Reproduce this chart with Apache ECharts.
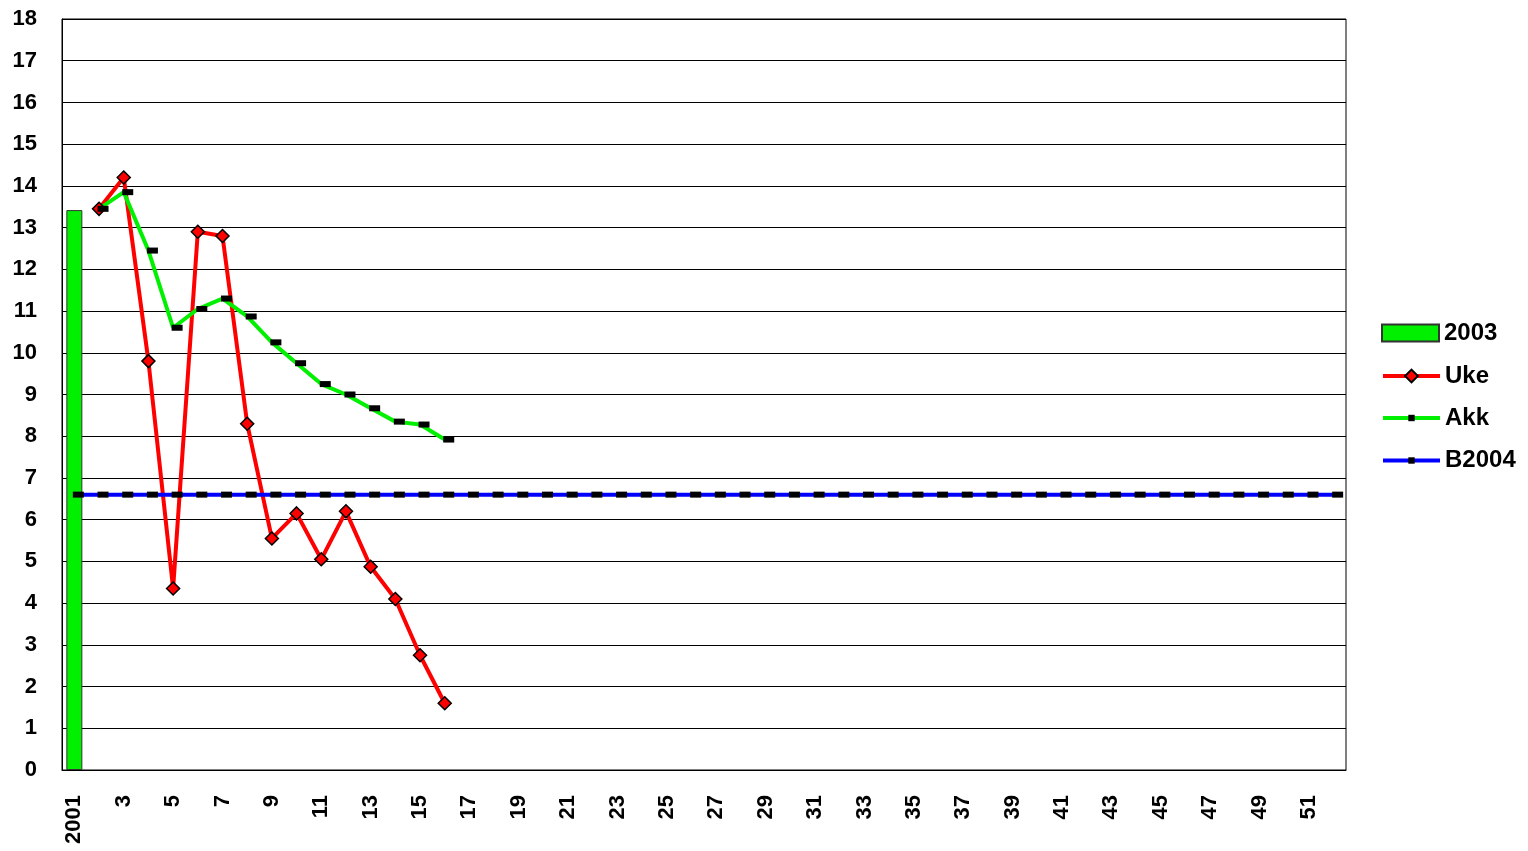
<!DOCTYPE html>
<html>
<head>
<meta charset="utf-8">
<script src="https://cdn.jsdelivr.net/npm/echarts@6/dist/echarts.min.js"></script>
<style>
  html, body { margin: 0; padding: 0; background: #fff; }
  #chart { width: 1528px; height: 851px; }
</style>
</head>
<body>
<div id="chart"></div>
<script>
// Week labels: first slot is the yearly column, then weeks 2..52
const weeks = ['2001', '2', '3', '4', '5', '6', '7', '8', '9', '10',
  '11', '12', '13', '14', '15', '16', '17', '18', '19', '20',
  '21', '22', '23', '24', '25', '26', '27', '28', '29', '30',
  '31', '32', '33', '34', '35', '36', '37', '38', '39', '40',
  '41', '42', '43', '44', '45', '46', '47', '48', '49', '50',
  '51', '52'];

// Yearly value 2003
const year2003 = [13.42];

// Weekly values
const uke = [null, 13.45, 14.2, 9.8, 4.35, 12.9, 12.8, 8.3, 5.55, 6.15,
  5.05, 6.2, 4.87, 4.1, 2.75, 1.6];

// Accumulated values
const akk = [null, 13.45, 13.85, 12.45, 10.6, 11.05, 11.3, 10.87, 10.25, 9.75,
  9.25, 9.0, 8.67, 8.35, 8.28, 7.92];

// Budget 2004
const b2004 = [6.6, 6.6, 6.6, 6.6, 6.6, 6.6, 6.6, 6.6, 6.6, 6.6,
  6.6, 6.6, 6.6, 6.6, 6.6, 6.6, 6.6, 6.6, 6.6, 6.6,
  6.6, 6.6, 6.6, 6.6, 6.6, 6.6, 6.6, 6.6, 6.6, 6.6,
  6.6, 6.6, 6.6, 6.6, 6.6, 6.6, 6.6, 6.6, 6.6, 6.6,
  6.6, 6.6, 6.6, 6.6, 6.6, 6.6, 6.6, 6.6, 6.6, 6.6,
  6.6, 6.6];

const font = 'Liberation Sans, Arial, sans-serif';
const green = '#00f000';

const chart = echarts.init(document.getElementById('chart'), null, { renderer: 'canvas' });

const dashMarker = {
  symbol: 'rect',
  symbolSize: [11, 6],
  symbolOffset: [4, 0],
  itemStyle: { color: '#000', borderWidth: 0 }
};

const legendText = { fontFamily: font, fontWeight: 'bold', fontSize: 24, color: '#000' };
const legendBase = {
  orient: 'vertical',
  left: 1381,
  padding: 0,
  itemWidth: 57,
  itemGap: 18.5,
  textStyle: legendText,
  lineStyle: { width: 'inherit' }
};

chart.setOption({
  animation: false,
  backgroundColor: '#fff',
  grid: {
    left: 62, right: 182, top: 19, bottom: 81,
    show: true, borderColor: '#000', borderWidth: 1, backgroundColor: 'transparent'
  },
  legend: [
    Object.assign({}, legendBase, {
      top: 321, itemHeight: 17,
      data: [{ name: '2003', icon: 'rect' }]
    }),
    Object.assign({}, legendBase, {
      top: 364, itemHeight: 16,
      data: ['Uke']
    }),
    Object.assign({}, legendBase, {
      top: 406, itemHeight: 8,
      data: ['Akk', 'B2004']
    })
  ],
  xAxis: {
    type: 'category',
    data: weeks,
    boundaryGap: true,
    axisLine: { lineStyle: { color: '#000', width: 1 } },
    axisTick: { show: false },
    axisLabel: {
      interval: 1,
      rotate: 90,
      margin: 25,
      fontFamily: font, fontWeight: 'bold', fontSize: 22, color: '#000'
    },
    splitLine: { show: false }
  },
  yAxis: {
    type: 'value',
    min: 0, max: 18, interval: 1,
    axisLine: { show: true, lineStyle: { color: '#000', width: 1 } },
    axisTick: { show: true, inside: true, length: 3, lineStyle: { color: '#000' } },
    axisLabel: {
      margin: 25,
      fontFamily: font, fontWeight: 'bold', fontSize: 22, color: '#000'
    },
    splitLine: { show: true, lineStyle: { color: '#000', width: 1 } }
  },
  series: [
    {
      name: '2003',
      type: 'bar',
      data: year2003,
      barWidth: 16,
      itemStyle: { color: green, borderColor: '#333', borderWidth: 1 }
    },
    {
      name: 'Uke',
      type: 'line',
      data: uke,
      symbol: 'diamond',
      symbolSize: 13,
      showAllSymbol: true,
      lineStyle: { color: '#ff0000', width: 4 },
      itemStyle: { color: '#ff0000', borderColor: '#000', borderWidth: 1.5 }
    },
    Object.assign({
      name: 'Akk',
      type: 'line',
      data: akk,
      showAllSymbol: true,
      lineStyle: { color: green, width: 4 }
    }, dashMarker),
    Object.assign({
      name: 'B2004',
      type: 'line',
      data: b2004,
      showAllSymbol: true,
      lineStyle: { color: '#0000ff', width: 4 }
    }, dashMarker)
  ]
});
</script>
</body>
</html>
